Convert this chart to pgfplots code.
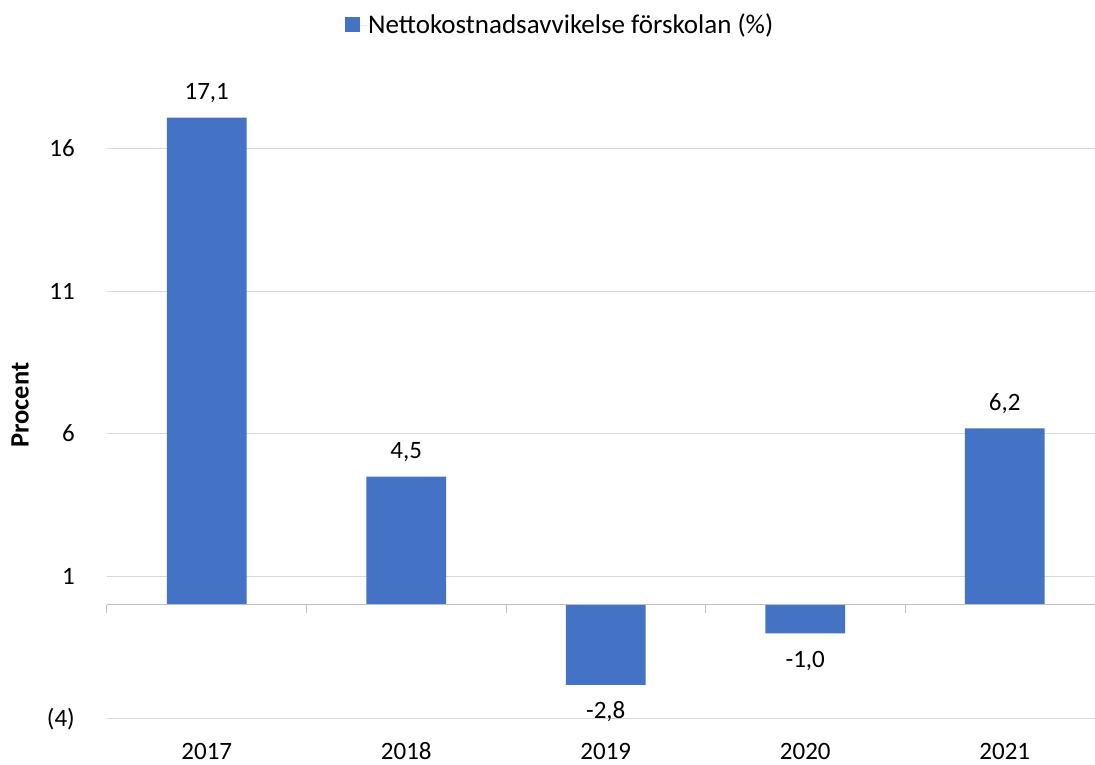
\documentclass[border=0pt]{standalone}
\usepackage{fontspec}
\setmainfont{Carlito}
\usepackage{pgfplots}
\pgfplotsset{compat=1.18}
\definecolor{barblue}{HTML}{4472C4}
\definecolor{gridgray}{HTML}{D9D9D9}
\definecolor{axisgray}{HTML}{BFBFBF}
\begin{document}
\fontsize{25}{30}\selectfont
\begin{tikzpicture}[font=\fontsize{25}{30}\selectfont]
\path[use as bounding box] (0,0) rectangle (1095pt,765pt);
\begin{axis}[
  at={(107pt,46pt)}, anchor=south west,
  scale only axis, width=997.5pt, height=684pt,
  xmin=-0.5, xmax=4.5, ymin=-4, ymax=20,
  clip=false,
  axis line style={draw=none},
  major tick length=0pt,
  xtick={0,1,2,3,4},
  xticklabels={2017,2018,2019,2020,2021},
  ytick={-4,1,6,11,16},
  yticklabels={(4),1,6,11,16},
  ymajorgrids, grid style={gridgray, line width=1pt},
  xticklabel style={anchor=north, inner sep=0pt, text height=16pt, text depth=0pt, yshift=-24pt},
  yticklabel style={anchor=east, inner sep=0pt, text height=16pt, text depth=0pt, xshift=-32pt},
  /pgf/number format/assume math mode=true,
  ylabel={\bfseries Procent},
  every axis y label/.style={at={(axis description cs:-0.087,0.459)}, rotate=90, anchor=center, font=\fontsize{26.5}{30}\selectfont},
  legend style={at={(axis description cs:0.2386,1.0146)}, anchor=west, draw=none, fill=none, inner sep=0pt,
    nodes={inner sep=0pt, text height=17pt, text depth=0pt, anchor=west, font=\fontsize{27}{32}\selectfont}},
  legend image code/.code={\fill[barblue] (0pt,-7pt) rectangle (15pt,8pt); \path (0pt,0pt) -- (23pt,0pt);},
]
\addplot[ybar, bar width=0.4, fill=barblue, draw=none,
  nodes near coords,
  nodes near coords align={vertical},
  every node near coord/.append style={black, inner xsep=0pt, inner ysep=18pt, text height=16pt, text depth=0pt,
    /pgf/number format/.cd, fixed, fixed zerofill, precision=1, use comma, assume math mode=true}]
  coordinates {(0,17.1) (1,4.5) (2,-2.8) (3,-1.0) (4,6.2)};
\addlegendentry{Nettokostnadsavvikelse förskolan (\%)}
\draw[axisgray, line width=1pt] (axis cs:-0.5,0) -- (axis cs:4.5,0);
\pgfplotsinvokeforeach{-0.5,0.5,1.5,2.5,3.5,4.5}{\draw[axisgray, line width=1pt] (axis cs:#1,0) -- ++(0pt,-8pt);}
\end{axis}
\end{tikzpicture}
\end{document}
